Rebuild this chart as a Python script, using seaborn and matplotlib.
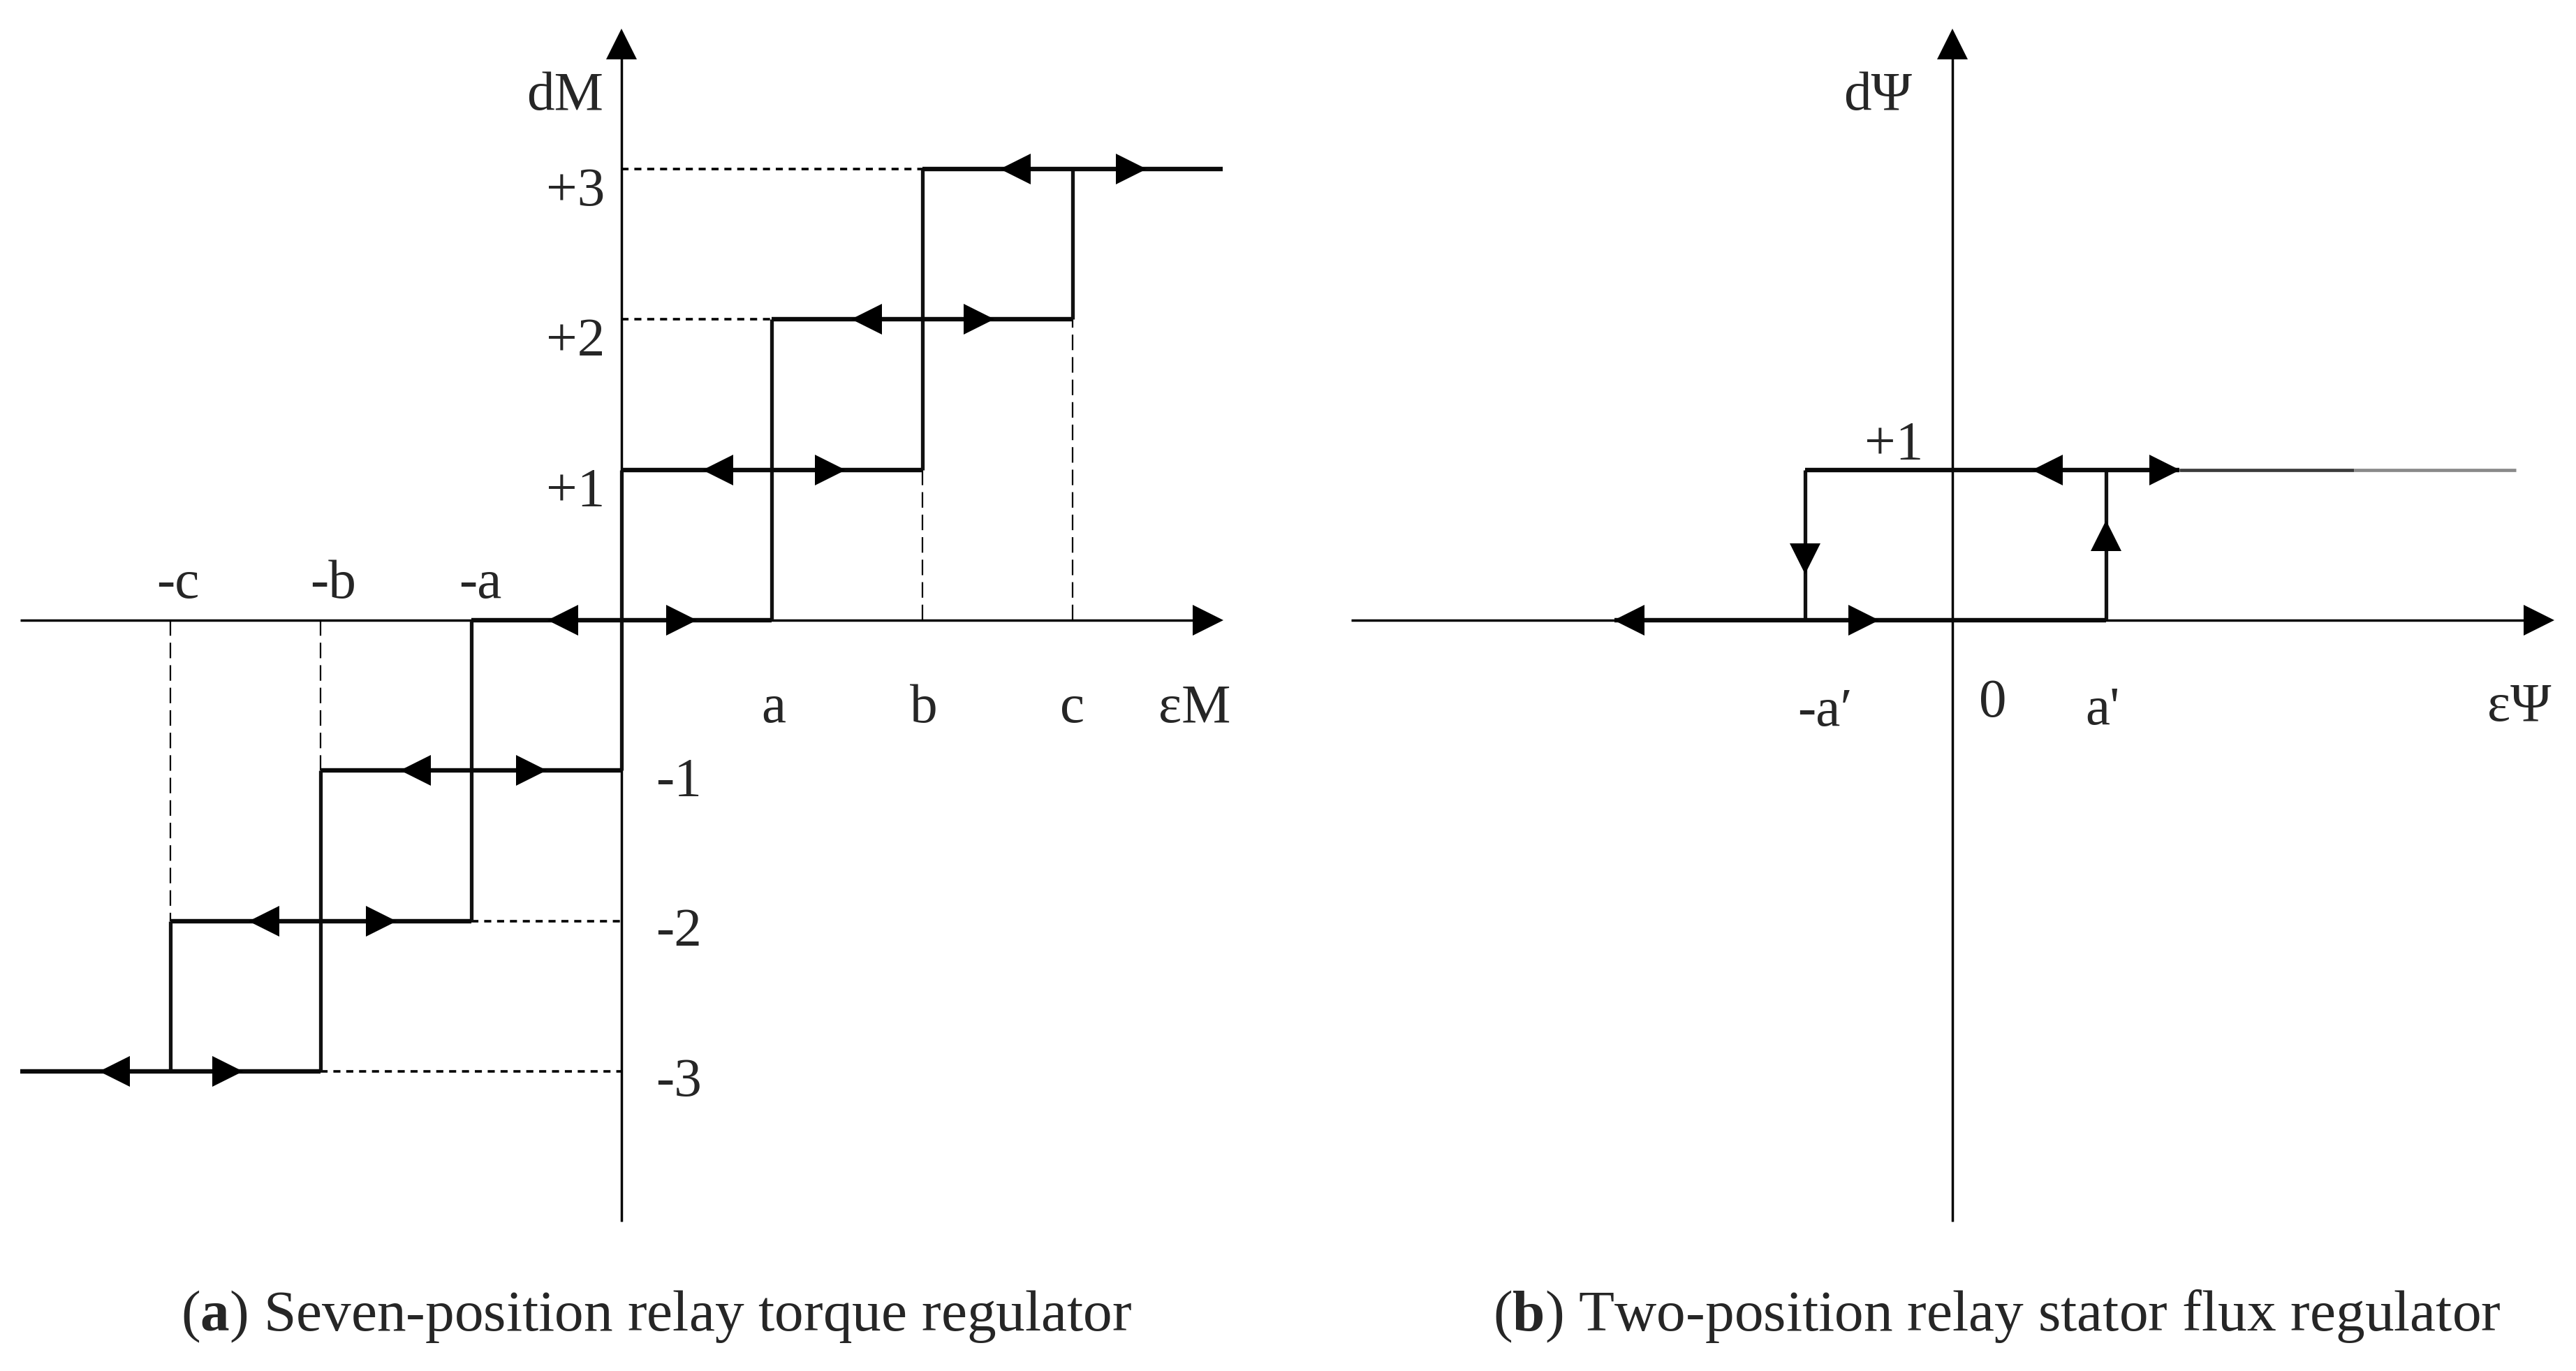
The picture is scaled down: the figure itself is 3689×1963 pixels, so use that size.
import numpy as np
import pandas as pd
import matplotlib
matplotlib.use("Agg")
import matplotlib.pyplot as plt
import seaborn as sns

# ---------------- data (panel a: seven-position relay) ----------------
levels_a = [-3, -2, -1, 0, 1, 2, 3]
h_start_a = [-4, -3, -2, -1, 0, 1, 2]
h_end_a = [-2, -1, 0, 1, 2, 3, 4]
switch_x_a = [-3, -2, -1, 0, 1, 2, 3]
v_low_a = [-3, -3, -2, -1, 0, 1, 2]
v_high_a = [-2, -1, 0, 1, 2, 3, 3]
arrow_left_tip_a = [-3.47, -2.48, -1.47, -0.49, 0.54, 1.53, 2.52]
arrow_right_tip_a = [-2.52, -1.50, -0.50, 0.50, 1.49, 2.48, 3.49]
dash_h_y = [3, 2, -2, -3]
dash_h_x0 = [0, 0, -1, -2]
dash_h_x1 = [2, 1, 0, 0]
dash_v_x = [2, 3, -2, -3]
dash_v_y0 = [0, 0, 0, 0]
dash_v_y1 = [1, 2, -1, -2]
pos_tick_labels = ["+3", "+2", "+1"]
pos_tick_vals = [3, 2, 1]
neg_tick_labels = ["-1", "-2", "-3"]
neg_tick_vals = [-1, -2, -3]
neg_x_labels = ["-c", "-b", "-a"]
neg_x_pos = [-2.95, -1.92, -0.94]
pos_x_labels = ["a", "b", "c"]
pos_x_pos = [1.01, 2.01, 3.00]

# ---------------- data (panel b: two-position relay) ----------------
levels_b = [0, 1]
h_start_b = [-2.25, -0.98]
h_end_b = [1.02, 1.51]
switch_x_b = [-0.98, 1.02]
v_from_b = [1, 0]
v_to_b = [0, 1]
arrow_left_tip_b = [-2.25, 0.53]
arrow_right_tip_b = [-0.49, 1.51]
v_arrow_tip_b = [0.31, 0.66]
tail_x_b = [1.51, 2.67, 3.75]
tail_colors_b = ["#3c3c3c", "#8a8a8a"]

AX_MIN, AX_MAX, AY_TIP = -4.0, 4.0, 3.93

# ---------------- style ----------------
sns.set_style("white")
plt.rcParams["font.family"] = ["Liberation Serif", "DejaVu Serif"]
plt.rcParams["mathtext.fontset"] = "custom"
plt.rcParams["mathtext.rm"] = "Liberation Serif"
plt.rcParams["mathtext.bf"] = "Liberation Serif:bold"

W, H, DPI = 3689, 1963, 100
U = 215.3          # pixels per data unit
OY = 888           # origin row (pixels from top)
fig = plt.figure(figsize=(W / DPI, H / DPI), dpi=DPI)
fig.patch.set_facecolor("white")

LBL = 57
CAP = 60
AH = 31            # arrow-head marker size (pt)
OFF = 0.1          # half arrow-head length in data units
STEP_LW = 4.6
VSTEP_LW = 3.8
AXIS_LW = 2.5


def make_axes(left_px, width_px, ox):
    ax = fig.add_axes([left_px / W, 0, width_px / W, 1])
    ax.set_xlim((left_px - ox) / U, (left_px + width_px - ox) / U)
    ax.set_ylim((OY - H) / U, OY / U)
    ax.axis("off")
    return ax


def segs(x0, y0, x1, y1):
    rows = []
    for i, (a, b, c, d) in enumerate(zip(x0, y0, x1, y1)):
        rows.append((i, a, b))
        rows.append((i, c, d))
    return pd.DataFrame(rows, columns=["seg", "x", "y"])


def draw_segs(ax, df, lw, color="black", dashes=None, z=2):
    n0 = len(ax.lines)
    sns.lineplot(data=df, x="x", y="y", units="seg", estimator=None,
                 sort=False, color=color, linewidth=lw, ax=ax,
                 legend=False, zorder=z)
    for ln in ax.lines[n0:]:
        ln.set_solid_capstyle("butt")
        if dashes is not None:
            ln.set_linestyle((0, dashes))


def arrowhead(ax, x, y, marker):
    ax.plot([x], [y], marker=marker, ms=AH, mew=0, color="black",
            linestyle="none", zorder=5)


def draw_axes(ax):
    draw_segs(ax, segs([AX_MIN, 0], [0, AX_MIN], [AX_MAX - OFF, 0], [0, AY_TIP - OFF]),
              AXIS_LW, z=1)
    arrowhead(ax, AX_MAX - OFF, 0, ">")
    arrowhead(ax, 0, AY_TIP - OFF, "^")


# ================= panel (a) =================
ax1 = make_axes(0, 1845, 890)
draw_axes(ax1)
draw_segs(ax1, segs(dash_h_x0, dash_h_y, dash_h_x1, dash_h_y), 2.6, dashes=(2.8, 2.3), z=1)
draw_segs(ax1, segs(dash_v_x, dash_v_y0, dash_v_x, dash_v_y1), 1.6, dashes=(10, 4.5), z=1)
draw_segs(ax1, segs(switch_x_a, v_low_a, switch_x_a, v_high_a), VSTEP_LW, color="#111111")
draw_segs(ax1, segs(h_start_a, levels_a, h_end_a, levels_a), STEP_LW, color="#0a0a0a", z=3)
for lv, lt, rt in zip(levels_a, arrow_left_tip_a, arrow_right_tip_a):
    arrowhead(ax1, lt + OFF, lv, "<")
    arrowhead(ax1, rt - OFF, lv, ">")

for t, v in zip(pos_tick_labels, pos_tick_vals):
    ax1.text(-0.11, v - 0.24, t, ha="right", va="baseline", fontsize=LBL)
for t, v in zip(neg_tick_labels, neg_tick_vals):
    ax1.text(0.23, v - 0.165, t, ha="left", va="baseline", fontsize=LBL)
for t, x in zip(neg_x_labels, neg_x_pos):
    ax1.text(x, 0.15, t, ha="center", va="baseline", fontsize=LBL)
for t, x in zip(pos_x_labels, pos_x_pos):
    ax1.text(x, -0.68, t, ha="center", va="baseline", fontsize=LBL)
ax1.text(3.81, -0.68, "\u03b5M", ha="center", va="baseline", fontsize=LBL)
ax1.text(-0.12, 3.395, "dM", ha="right", va="baseline", fontsize=LBL)

# ================= panel (b) =================
ax2 = make_axes(1845, 1844, 2796)
draw_axes(ax2)
for c, xa, xb in zip(tail_colors_b, tail_x_b[:-1], tail_x_b[1:]):
    draw_segs(ax2, segs([xa], [1], [xb], [1]), 3.4, color=c, z=2)
draw_segs(ax2, segs(switch_x_b, v_from_b, switch_x_b, v_to_b), VSTEP_LW, color="#111111")
draw_segs(ax2, segs(h_start_b, levels_b, h_end_b, levels_b), STEP_LW, color="#0a0a0a", z=3)
for lv, lt, rt in zip(levels_b, arrow_left_tip_b, arrow_right_tip_b):
    arrowhead(ax2, lt + OFF, lv, "<")
    arrowhead(ax2, rt - OFF, lv, ">")
arrowhead(ax2, switch_x_b[0], v_arrow_tip_b[0] + OFF, "v")
arrowhead(ax2, switch_x_b[1], v_arrow_tip_b[1] - OFF, "^")

ax2.text(-0.27, 3.395, "d\u03a8", ha="right", va="baseline", fontsize=LBL)
ax2.text(-0.39, 1.073, "+1", ha="center", va="baseline", fontsize=LBL)
ax2.text(-0.85, -0.70, "-a\u2032", ha="center", va="baseline", fontsize=LBL)
ax2.text(0.27, -0.64, "0", ha="center", va="baseline", fontsize=LBL)
ax2.text(1.00, -0.69, "a'", ha="center", va="baseline", fontsize=LBL)
ax2.text(3.77, -0.67, "\u03b5\u03a8", ha="center", va="baseline", fontsize=LBL)

# ================= captions =================
fig.text(940 / W, 1 - 1905 / H, r"($\mathbf{a}$) Seven-position relay torque regulator",
         ha="center", va="baseline", fontsize=CAP)
fig.text(2860 / W, 1 - 1905 / H, r"($\mathbf{b}$) Two-position relay stator flux regulator",
         ha="center", va="baseline", fontsize=CAP)

fig.savefig("out.png", dpi=DPI, facecolor="white")
